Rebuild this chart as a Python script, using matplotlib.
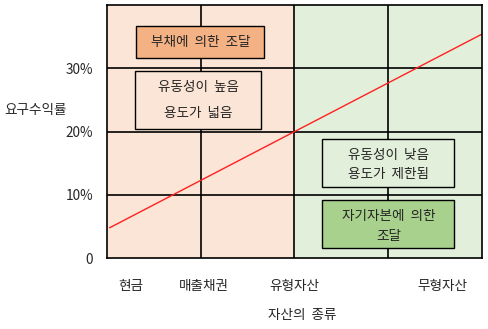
import matplotlib
matplotlib.use("Agg")
import matplotlib.pyplot as plt
from matplotlib.patches import Rectangle

plt.rcParams['font.family'] = ['Noto Sans CJK KR', 'DejaVu Sans']

# ---- data ----
asset_labels = ["현금", "매출채권", "유형자산", "무형자산"]
asset_label_pos = [0.25, 1.04, 2.0, 3.58]
y_ticks = [0, 10, 20, 30]
y_tick_labels = ["0", "10%", "20%", "30%"]
line_x = [0.03, 4.0]
line_y = [4.8, 35.4]
box_texts = [["부채에  의한  조달"],
             ["유동성이  높음", "용도가  넓음"],
             ["유동성이  낮음", "용도가  제한됨"],
             ["자기자본에  의한", "조달"]]

FS = 9.8
TC = "#262626"

# ---- figure ----
fig = plt.figure(figsize=(4.88, 3.29), dpi=100)
ax = fig.add_axes([107/488, 71/329, 374.5/488, 252.7/329])
ax.set_xlim(0, 4)
ax.set_ylim(0, 40)

peach = "#FBE5D6"
green = "#E2EFDA"
ax.axvspan(0, 2, color=peach, zorder=0, lw=0)
ax.axvspan(2, 4, color=green, zorder=0, lw=0)

for xv in [1, 2, 3]:
    ax.axvline(xv, color="black", lw=1.2, zorder=1)
for yv in [10, 20, 30]:
    ax.axhline(yv, color="black", lw=1.2, zorder=1)

ax.plot(line_x, line_y, color="#FF2020", lw=1.0, zorder=2)

# boxes: (x0, x1, y0, y1, facecolor, line y positions)
boxes = [
    (0.313, 1.68, 31.6, 36.66, "#F4B183", [34.2]),
    (0.302, 1.649, 20.41, 29.59, peach, [27.0, 22.9]),
    (2.30, 3.71, 11.19, 18.78, green, [16.3, 13.3]),
    (2.30, 3.71, 1.53, 9.13, "#A9D18E", [6.6, 3.45]),
]
for (x0, x1, y0, y1, fc, ys), lines in zip(boxes, box_texts):
    ax.add_patch(Rectangle((x0, y0), x1 - x0, y1 - y0, facecolor=fc,
                           edgecolor="black", lw=1.0, zorder=3))
    for yy, t in zip(ys, lines):
        ax.text((x0 + x1) / 2, yy, t, ha="center", va="center",
                fontsize=FS, color=TC, zorder=4)

for s in ax.spines.values():
    s.set_color("black")
    s.set_linewidth(1.2)
    s.set_zorder(5)

ax.set_yticks(y_ticks)
ax.set_yticklabels(y_tick_labels, fontsize=FS, color=TC)
ax.set_xticks(asset_label_pos)
ax.set_xticklabels(asset_labels, fontsize=FS, color=TC)
ax.tick_params(axis="y", length=0, pad=10)
ax.tick_params(axis="x", length=0, pad=15)

fig.text(36/488, 1 - 110/329, "요구수익률", ha="center", va="center",
         fontsize=FS, color=TC)
fig.text(302/488, 1 - 315/329, "자산의  종류", ha="center", va="center",
         fontsize=FS, color=TC)

fig.savefig("out.png", dpi=100)
